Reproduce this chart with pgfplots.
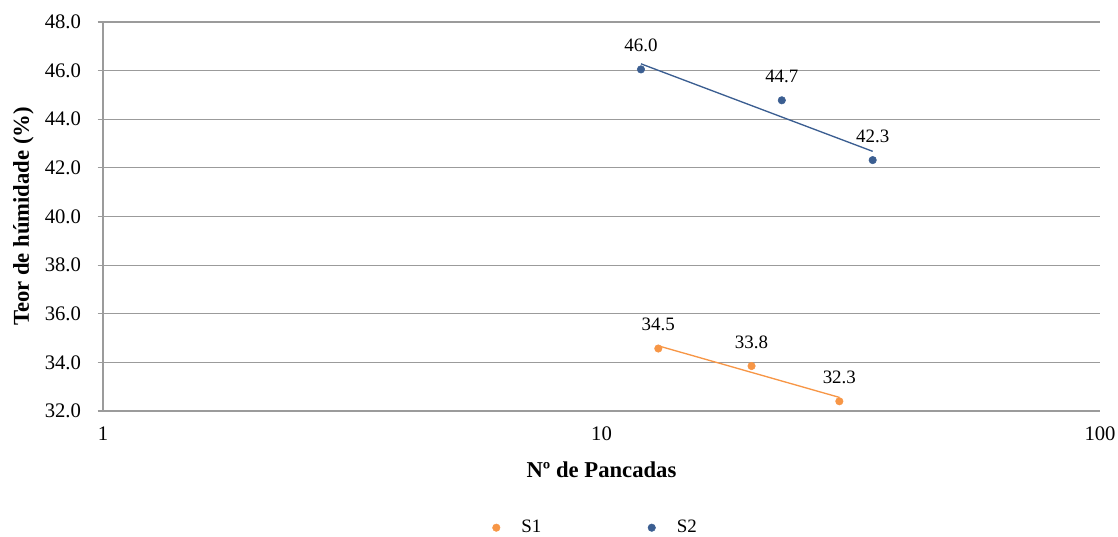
\documentclass[border=0pt]{standalone}
\usepackage{pgfplots}
\pgfplotsset{compat=1.18}
\usepackage{fontspec}
\setmainfont{Liberation Serif}
\definecolor{sone}{RGB}{247,150,70}
\definecolor{stwo}{RGB}{59,94,145}
\definecolor{gridc}{RGB}{155,155,155}
\begin{document}
\begin{tikzpicture}
\path[use as bounding box] (-77.25pt,-93.75pt) rectangle (761.25pt,308.25pt);
\begin{axis}[
  at={(0pt,0pt)}, anchor=south west,
  scale only axis, width=747.75pt, height=291.75pt,
  xmode=log, xmin=1, xmax=100, ymin=32, ymax=48,
  xtick={1,10,100}, xticklabels={1,10,100},
  ytick={32,34,...,48},
  /pgf/number format/assume math mode=true,
  yticklabel={\pgfmathprintnumber[fixed,fixed zerofill,precision=1]{\tick}},
  ymajorgrids, major grid style={gridc, line width=0.8pt},
  axis x line*=bottom, axis y line*=left,
  axis line style={gridc, line width=0.8pt, -},
  tick style={gridc, line width=0.8pt},
  xtick style={draw=none},
  ytick align=outside, major tick length=4pt,
  minor tick num=0, xminorticks=false,
  tick label style={font=\fontsize{15.5pt}{17pt}\selectfont, black},
  yticklabel style={xshift=-9pt},
  xticklabel style={yshift=-8pt},
  xlabel={\textbf{Nº de Pancadas}},
  ylabel={\textbf{Teor de húmidade (\%)}},
  label style={font=\fontsize{17pt}{19pt}\selectfont},
  xlabel style={yshift=-9pt},
  ylabel style={yshift=1.5pt},
  legend style={at={(0.4945,-0.3)}, anchor=center, draw=none, fill=none,
    legend columns=2, font=\fontsize{14.2pt}{16pt}\selectfont,
    /tikz/every odd column/.append style={column sep=14pt},
    /tikz/every even column/.append style={column sep=78pt}},
  legend cell align=left,
  clip=false,
]
\addplot[only marks, mark=*, mark size=2.8pt, color=sone,
  nodes near coords, point meta=explicit symbolic,
  every node near coord/.append style={black, anchor=south, yshift=9.5pt, font=\fontsize{14.2pt}{16pt}\selectfont}]
  coordinates {(13,34.57)[34.5] (20,33.85)[33.8] (30,32.40)[32.3]};
\addlegendentry{S1}
\addplot[only marks, mark=*, mark size=2.8pt, color=stwo,
  nodes near coords, point meta=explicit symbolic,
  every node near coord/.append style={black, anchor=south, yshift=9.5pt, font=\fontsize{14.2pt}{16pt}\selectfont}]
  coordinates {(12,46.05)[46.0] (23,44.78)[44.7] (35,42.32)[42.3]};
\addlegendentry{S2}
\addplot[sone, line width=1pt, forget plot] coordinates {(13,34.68) (30,32.56)};
\addplot[stwo, line width=1pt, forget plot] coordinates {(12,46.28) (35,42.68)};
\end{axis}
\end{tikzpicture}
\end{document}
